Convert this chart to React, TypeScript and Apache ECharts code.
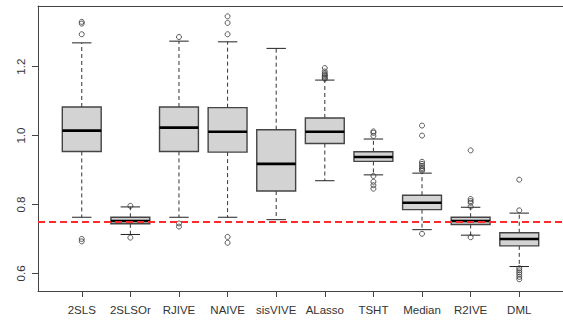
import React, { useEffect, useRef } from "react";
import * as echarts from "echarts";

const categories = ["2SLS", "2SLSOr", "RJIVE", "NAIVE", "sisVIVE", "ALasso", "TSHT", "Median", "R2IVE", "DML"];
const lowerWhisker = [0.763, 0.713, 0.763, 0.763, 0.756, 0.869, 0.886, 0.727, 0.711, 0.620];
const q1 = [0.954, 0.744, 0.954, 0.952, 0.839, 0.977, 0.925, 0.785, 0.742, 0.680];
const median = [1.0145, 0.752, 1.023, 1.011, 0.918, 1.011, 0.938, 0.805, 0.752, 0.700];
const q3 = [1.083, 0.763, 1.083, 1.081, 1.017, 1.051, 0.953, 0.827, 0.763, 0.718];
const upperWhisker = [1.269, 0.793, 1.274, 1.272, 1.253, 1.161, 0.990, 0.891, 0.792, 0.775];
const outliers: number[][] = [
  [1.330, 1.325, 1.294, 0.700, 0.693],
  [0.796, 0.704],
  [1.286, 0.745, 0.736],
  [1.346, 1.327, 1.294, 0.706, 0.689],
  [],
  [1.196, 1.186, 1.180, 1.176, 1.172, 1.168, 1.165],
  [1.012, 1.008, 0.999, 0.883, 0.866, 0.856, 0.846],
  [1.029, 1.0, 0.924, 0.918, 0.912, 0.906, 0.902, 0.898, 0.715],
  [0.957, 0.816, 0.810, 0.805, 0.794, 0.705],
  [0.872, 0.783, 0.615, 0.609, 0.603, 0.597, 0.590, 0.583],
];
const yTicks = [0.6, 0.8, 1.0, 1.2];
const trueValue = 0.75;

export default function App() {
  const ref = useRef<HTMLDivElement>(null);
  useEffect(() => {
    if (!ref.current) return;
    const chart = echarts.init(ref.current, null, { renderer: "svg" });
    const boxData = categories.map((_, i) => [i + 1, lowerWhisker[i], q1[i], median[i], q3[i], upperWhisker[i]]);
    const outData: number[][] = [];
    outliers.forEach((arr, i) => arr.forEach((v) => outData.push([i + 1, v])));
    const xPositions = categories.map((_, i) => i + 1);
    const font = "Liberation Sans, Arial, sans-serif";
    const axisColor = "#444";

    chart.setOption({
      animation: false,
      backgroundColor: "#fff",
      grid: { left: 38, top: 6, width: 527, height: 285 },
      xAxis: [
        {
          type: "value",
          min: 0.1,
          max: 10.9,
          position: "bottom",
          splitLine: { show: false },
          axisLine: { show: true, lineStyle: { color: axisColor, width: 1 } },
          axisTick: { show: true, length: 6, customValues: xPositions, lineStyle: { color: axisColor } },
          axisLabel: {
            customValues: xPositions,
            formatter: (v: number) => categories[Math.round(v) - 1] ?? "",
            margin: 13,
            fontFamily: font,
            fontSize: 11.5,
            color: "#333",
          },
        },
        {
          type: "value",
          min: 0.1,
          max: 10.9,
          position: "top",
          splitLine: { show: false },
          axisLine: { show: true, onZero: false, lineStyle: { color: axisColor, width: 1 } },
          axisTick: { show: false },
          axisLabel: { show: false },
        },
      ],
      yAxis: {
        type: "value",
        min: 0.549,
        max: 1.376,
        splitLine: { show: false },
        axisLine: { show: true, lineStyle: { color: axisColor, width: 1 } },
        axisTick: { show: true, length: 6, customValues: yTicks, lineStyle: { color: axisColor } },
        axisLabel: {
          customValues: yTicks,
          formatter: (v: number) => v.toFixed(1),
          rotate: 90,
          margin: 11,
          fontFamily: font,
          fontSize: 11.5,
          color: "#333",
        },
      },
      series: [
        {
          type: "custom",
          xAxisIndex: 0,
          data: boxData,
          z: 2,
          renderItem: (params: any, api: any) => {
            const x = api.value(0);
            const w = api.size([0.8, 0])[0];
            const half = w / 2;
            const capHalf = w / 4;
            const pLw = api.coord([x, api.value(1)]);
            const pQ1 = api.coord([x, api.value(2)]);
            const pMed = api.coord([x, api.value(3)]);
            const pQ3 = api.coord([x, api.value(4)]);
            const pUw = api.coord([x, api.value(5)]);
            const cx = pMed[0];
            return {
              type: "group",
              children: [
                {
                  type: "line",
                  shape: { x1: cx, y1: pQ3[1], x2: cx, y2: pUw[1] },
                  style: { stroke: "#333", lineWidth: 1, lineDash: [4, 3] },
                },
                {
                  type: "line",
                  shape: { x1: cx, y1: pQ1[1], x2: cx, y2: pLw[1] },
                  style: { stroke: "#333", lineWidth: 1, lineDash: [4, 3] },
                },
                {
                  type: "line",
                  shape: { x1: cx - capHalf, y1: pUw[1], x2: cx + capHalf, y2: pUw[1] },
                  style: { stroke: "#222", lineWidth: 1 },
                },
                {
                  type: "line",
                  shape: { x1: cx - capHalf, y1: pLw[1], x2: cx + capHalf, y2: pLw[1] },
                  style: { stroke: "#222", lineWidth: 1 },
                },
                {
                  type: "rect",
                  shape: { x: cx - half, y: pQ3[1], width: w, height: pQ1[1] - pQ3[1] },
                  style: { fill: "#D3D3D3", stroke: "#444", lineWidth: 1.4 },
                },
                {
                  type: "line",
                  shape: { x1: cx - half, y1: pMed[1], x2: cx + half, y2: pMed[1] },
                  style: { stroke: "#000", lineWidth: 2.6 },
                },
              ],
            };
          },
        },
        {
          type: "scatter",
          xAxisIndex: 0,
          data: outData,
          symbol: "circle",
          symbolSize: 5,
          z: 3,
          itemStyle: { color: "transparent", borderColor: "#333", borderWidth: 1 },
        },
        {
          type: "line",
          xAxisIndex: 0,
          data: [],
          z: 5,
          markLine: {
            silent: true,
            symbol: ["none", "none"],
            label: { show: false },
            lineStyle: { color: "#ff2a2a", width: 2, type: [7, 4] },
            data: [{ yAxis: trueValue }],
          },
        },
      ],
    });
    return () => chart.dispose();
  }, []);
  return <div ref={ref} style={{ position: "fixed", left: 0, top: 0, width: 563, height: 325 }} />;
}
